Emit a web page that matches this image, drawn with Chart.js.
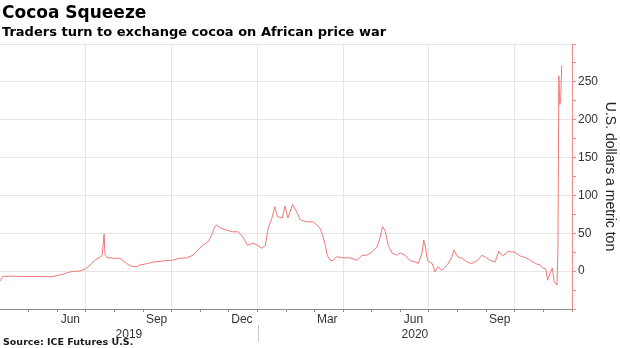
<!DOCTYPE html>
<html>
<head>
<meta charset="utf-8">
<script src="https://cdn.jsdelivr.net/npm/chart.js"></script>
<style>
  html, body { margin: 0; padding: 0; background: #fff; }
  #wrap { position: relative; width: 620px; height: 348px; overflow: hidden; }
  #chart { position: absolute; left: 0; top: 0; }
  .txt { position: absolute; left: 2px; line-height: 1; font-family: "DejaVu Sans", sans-serif; font-weight: bold; color: #000; white-space: nowrap; }
  #title { top: 4px; font-size: 17px; }
  #subtitle { top: 25px; font-size: 13px; }
  #source { top: 337px; left: 3px; font-size: 9.5px; color: #1a1a1a; }
</style>
</head>
<body>
<div id="wrap">
  <canvas id="chart" width="620" height="348"></canvas>
  <div id="title" class="txt">Cocoa Squeeze</div>
  <div id="subtitle" class="txt">Traders turn to exchange cocoa on African price war</div>
  <div id="source" class="txt">Source: ICE Futures U.S.</div>
</div>
<script>
// ICE cocoa exchange spread, U.S. dollars a metric ton
const dates = [
  '2019-04-01', '2019-04-04', '2019-04-12', '2019-04-22', '2019-05-03', '2019-05-14', '2019-05-24', '2019-06-01',
  '2019-06-07', '2019-06-15', '2019-06-20', '2019-06-25', '2019-07-01', '2019-07-06', '2019-07-11', '2019-07-17',
  '2019-07-19', '2019-07-21', '2019-07-22', '2019-07-24', '2019-07-31', '2019-08-07', '2019-08-10', '2019-08-14',
  '2019-08-18', '2019-08-22', '2019-08-25', '2019-08-28', '2019-09-05', '2019-09-11', '2019-09-19', '2019-09-26',
  '2019-10-02', '2019-10-10', '2019-10-17', '2019-10-24', '2019-10-29', '2019-10-31', '2019-11-03', '2019-11-09',
  '2019-11-13', '2019-11-16', '2019-11-18', '2019-11-22', '2019-11-29', '2019-12-05', '2019-12-11', '2019-12-16',
  '2019-12-21', '2019-12-27', '2020-01-01', '2020-01-05', '2020-01-09', '2020-01-12', '2020-01-16', '2020-01-19',
  '2020-01-22', '2020-01-27', '2020-01-30', '2020-02-02', '2020-02-07', '2020-02-12', '2020-02-15', '2020-02-22',
  '2020-02-29', '2020-03-04', '2020-03-07', '2020-03-10', '2020-03-13', '2020-03-15', '2020-03-18', '2020-03-21',
  '2020-03-25', '2020-04-01', '2020-04-08', '2020-04-16', '2020-04-21', '2020-04-26', '2020-05-02', '2020-05-07',
  '2020-05-10', '2020-05-13', '2020-05-16', '2020-05-19', '2020-05-23', '2020-05-28', '2020-06-01', '2020-06-06',
  '2020-06-11', '2020-06-17', '2020-06-20', '2020-06-24', '2020-06-26', '2020-06-28', '2020-06-30', '2020-07-05',
  '2020-07-08', '2020-07-11', '2020-07-15', '2020-07-21', '2020-07-26', '2020-07-28', '2020-08-01', '2020-08-06',
  '2020-08-11', '2020-08-16', '2020-08-22', '2020-08-27', '2020-08-30', '2020-09-05', '2020-09-10', '2020-09-14',
  '2020-09-18', '2020-09-24', '2020-10-01', '2020-10-07', '2020-10-12', '2020-10-17', '2020-10-23', '2020-10-28',
  '2020-10-31', '2020-11-03', '2020-11-05', '2020-11-08', '2020-11-10', '2020-11-12', '2020-11-14', '2020-11-15',
  '2020-11-16', '2020-11-17', '2020-11-18', '2020-11-19', '2020-11-20'
];
const spread = [
  -13, -7, -6.6, -7, -7, -7, -7.5, -6,
  -4, -1, 0, 0, 3, 8, 14, 19,
  21, 49, 22, 18, 17, 17, 14, 10,
  7, 6, 6, 8, 10, 12, 13, 14,
  14.5, 17, 17.6, 21, 28, 30, 34, 39,
  48, 59, 61, 57, 54, 52, 52, 45,
  34, 37, 34, 30, 34, 57, 70, 85,
  72, 70, 86, 70, 88, 77, 68, 65,
  65, 61, 57, 48, 34, 21, 14, 14,
  19, 17.6, 17.6, 14.5, 21, 21, 25.6, 32,
  43, 59, 52, 34, 24, 21, 24, 21,
  14, 12, 10, 24, 41, 30, 14, 10,
  -1, 6, 1, 8, 19, 28, 19, 17,
  12, 10, 14, 21, 19, 14, 12, 26,
  20, 26, 25, 20, 18, 15, 10, 8,
  4, 3, -12, -2, 4, -14, -17, -18,
  28, 258, 220, 226, 272
];

// axis labels
const monthLabelDates = ['2019-06-15', '2019-09-15', '2019-12-15', '2020-03-15', '2020-06-15', '2020-09-15'];
const monthLabels = ['Jun', 'Sep', 'Dec', 'Mar', 'Jun', 'Sep'];
const yearLabels = ['2019', '2020'];
const yTickValues = [-50, -25, 0, 25, 50, 75, 100, 125, 150, 175, 200, 225, 250, 275, 300];
const yLabelValues = [0, 50, 100, 150, 200, 250];

const xStart = '2019-04-01';
const xEnd = '2020-12-01';
const yearBreak = '2020-01-01';

const BASE = Date.UTC(2019, 0, 1);
function dayNum(s) {
  const p = s.split('-').map(Number);
  return (Date.UTC(p[0], p[1] - 1, p[2]) - BASE) / 86400000;
}
function monthOf(day) {
  return new Date(BASE + day * 86400000).getUTCMonth();
}

const xMin = dayNum(xStart);
const xMax = dayNum(xEnd);

// monthly tick marks on the axis line
const monthStarts = [];
for (let y = 2019, m = 4; y < 2020 || m <= 11; m++) {
  if (m > 11) { m = 0; y++; }
  monthStarts.push((Date.UTC(y, m, 1) - BASE) / 86400000);
  if (y === 2020 && m === 11) break;
}

const GRID = '#e6e6e6';
const RED = '#f28a8a';
const LABEL = '#333333';
const NARROW = '"Liberation Sans Narrow", "Liberation Sans", sans-serif';

const yearDivider = {
  id: 'yearDivider',
  afterDraw(chart) {
    const px = Math.round(chart.scales.x.getPixelForValue(dayNum(yearBreak))) + 0.5;
    const ctx = chart.ctx;
    ctx.save();
    ctx.strokeStyle = '#c8c8c8';
    ctx.lineWidth = 1;
    ctx.beginPath();
    ctx.moveTo(px, chart.scales.xy.top - 2);
    ctx.lineTo(px, chart.scales.xy.bottom);
    ctx.stroke();
    ctx.restore();
  }
};

new Chart(document.getElementById('chart'), {
  type: 'line',
  data: {
    datasets: [{
      data: dates.map((d, i) => ({ x: dayNum(d), y: spread[i] })),
      borderColor: '#f07777',
      borderWidth: 1,
      pointRadius: 0,
      tension: 0,
      fill: false
    }]
  },
  options: {
    responsive: false,
    animation: false,
    devicePixelRatio: 1,
    layout: { padding: { top: 44, left: 0, right: 0, bottom: 6 } },
    plugins: { legend: { display: false }, tooltip: { enabled: false } },
    scales: {
      x: {
        type: 'linear',
        position: 'bottom',
        min: xMin,
        max: xMax,
        afterBuildTicks: s => { s.ticks = monthStarts.map(v => ({ value: v })); },
        afterFit: s => { s.height = 3; },
        grid: {
          color: c => (c.tick && monthOf(c.tick.value) % 3 === 0 && c.tick.value < xMax) ? GRID : 'rgba(0,0,0,0)',
          tickColor: '#8c8c8c',
          tickLength: 3
        },
        border: { color: '#8c8c8c' },
        ticks: { display: false }
      },
      xm: {
        type: 'linear',
        position: 'bottom',
        min: xMin,
        max: xMax,
        afterBuildTicks: s => { s.ticks = monthLabelDates.map(d => ({ value: dayNum(d) })); },
        afterFit: s => { s.height = 15; },
        grid: { display: false },
        border: { display: false },
        ticks: {
          autoSkip: false, maxRotation: 0, padding: -8,
          color: LABEL,
          font: { family: NARROW, size: 12 },
          callback: (v, i) => monthLabels[i]
        }
      },
      xy: {
        type: 'linear',
        position: 'bottom',
        min: xMin,
        max: xMax,
        afterBuildTicks: s => {
          const b = dayNum(yearBreak);
          s.ticks = [{ value: (xMin + b) / 2 }, { value: (b + xMax) / 2 }];
        },
        afterFit: s => { s.height = 15; },
        grid: { display: false },
        border: { display: false },
        ticks: {
          autoSkip: false, maxRotation: 0, padding: -8,
          color: LABEL,
          font: { family: NARROW, size: 12 },
          callback: (v, i) => yearLabels[i]
        }
      },
      y: {
        position: 'right',
        min: -50,
        max: 300,
        afterBuildTicks: s => { s.ticks = yTickValues.map(v => ({ value: v })); },
        afterFit: s => { s.width = 48; },
        grid: {
          color: c => (c.tick && c.tick.value % 50 === 0 && c.tick.value > -50) ? GRID : 'rgba(0,0,0,0)',
          tickColor: RED,
          tickLength: 4
        },
        border: { color: RED },
        ticks: {
          padding: 2,
          color: LABEL,
          font: { family: '"Liberation Sans", sans-serif', size: 12 },
          callback: v => yLabelValues.includes(v) ? String(v) : ''
        },
        title: {
          display: true,
          text: 'U.S. dollars a metric ton',
          color: '#222',
          font: { family: '"Liberation Sans", sans-serif', size: 14 },
          padding: { top: 2, bottom: 0 }
        }
      }
    }
  },
  plugins: [yearDivider]
});
</script>
</body>
</html>
